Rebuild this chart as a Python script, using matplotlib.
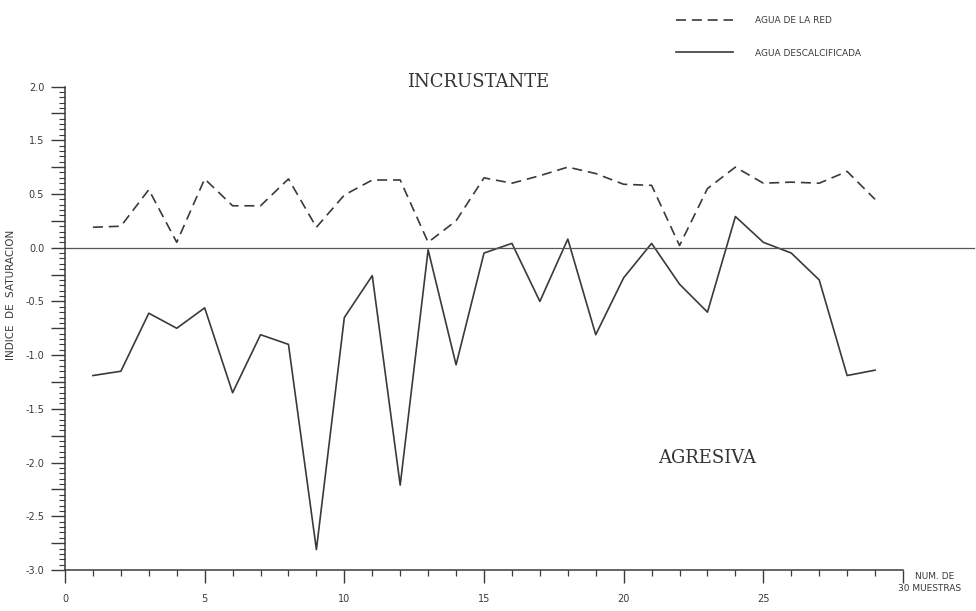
import numpy as np
import matplotlib
matplotlib.use("Agg")
import matplotlib.pyplot as plt
from matplotlib.ticker import MultipleLocator, FixedLocator, FuncFormatter

# muestras (numero de muestra)
muestras = list(range(1, 30))

# indice de saturacion, agua de la red (linea discontinua)
agua_red = [0.19, 0.20, 0.54, 0.05, 0.64, 0.39, 0.39, 0.64, 0.19, 0.49,
            0.63, 0.63, 0.05, 0.25, 0.65, 0.60, 0.67, 0.75, 0.69, 0.59,
            0.58, 0.02, 0.55, 0.75, 0.60, 0.61, 0.60, 0.71, 0.45]

# indice de saturacion, agua descalcificada (linea continua)
agua_descal = [-1.19, -1.15, -0.61, -0.75, -0.56, -1.35, -0.81, -0.90, -2.81, -0.65,
               -0.26, -2.21, -0.02, -1.09, -0.05, 0.04, -0.50, 0.08, -0.81, -0.28,
               0.04, -0.34, -0.60, 0.29, 0.05, -0.05, -0.30, -1.19, -1.14]

# etiquetas del eje y tal como aparecen en el original
y_labels = {1.5: "2.0", 1.0: "1.5", 0.5: "0.5", 0.0: "0.0", -0.5: "-0.5",
            -1.0: "-1.0", -1.5: "-1.5", -2.0: "-2.0", -2.5: "-2.5", -3.0: "-3.0"}
x_labels = {0: "0", 5: "5", 10: "10", 15: "15", 20: "20", 25: "25", 30: ""}

ink = "#3a3a3a"
small = ["DejaVu Sans"]

fig = plt.figure(figsize=(9.76, 6.11), dpi=100)
ax = fig.add_axes([0.0666, 0.0671, 0.8586, 0.7913])

ax.plot(muestras, agua_red, color=ink, lw=1.2, dashes=(6, 3.5), label="AGUA DE LA RED")
ax.plot(muestras, agua_descal, color=ink, lw=1.2, label="AGUA DESCALCIFICADA")
ax.axhline(0, xmin=0, xmax=1.085, color="#555555", lw=0.9, clip_on=False)

ax.set_xlim(0, 30)
ax.set_ylim(-3.0, 1.5)

for s in ["top", "right"]:
    ax.spines[s].set_visible(False)
for s in ["left", "bottom"]:
    ax.spines[s].set_color(ink)
    ax.spines[s].set_linewidth(1.1)

ax.yaxis.set_major_locator(MultipleLocator(0.25))
ax.yaxis.set_minor_locator(MultipleLocator(0.05))
ax.yaxis.set_major_formatter(FuncFormatter(lambda v, p: y_labels.get(round(v, 2), "")))
ax.xaxis.set_major_locator(FixedLocator(list(x_labels.keys())))
ax.xaxis.set_minor_locator(MultipleLocator(1))
ax.xaxis.set_major_formatter(FuncFormatter(lambda v, p: x_labels.get(int(round(v)), "")))

ax.tick_params(axis="y", which="major", direction="out", length=10, width=1.0,
               color=ink, labelsize=7, labelcolor=ink, pad=5)
ax.tick_params(axis="y", which="minor", direction="out", length=4.5, width=0.8, color=ink)
ax.tick_params(axis="x", which="major", direction="out", length=9, width=1.0,
               color=ink, labelsize=7, labelcolor=ink, pad=8)
ax.tick_params(axis="x", which="minor", direction="out", length=4, width=0.9, color=ink)

ax.set_ylabel("INDICE  DE  SATURACION", fontsize=7.5, color=ink, family=small)
ax.yaxis.set_label_coords(-0.058, 0.57)

fig.text(0.49, 0.866, "INCRUSTANTE", family="DejaVu Serif", fontsize=13,
         color="#333333", ha="center", va="center")
fig.text(0.724, 0.250, "AGRESIVA", family="DejaVu Serif", fontsize=13,
         color="#333333", ha="center", va="center")

fig.text(0.937, 0.057, "NUM. DE", fontsize=6.5, color=ink, ha="left", va="center", family=small)
fig.text(0.920, 0.037, "30 MUESTRAS", fontsize=6.5, color=ink, ha="left", va="center", family=small)

leg = ax.legend(loc="upper left", bbox_to_anchor=(0.688, 0.981), bbox_transform=fig.transFigure,
                frameon=False, fontsize=6.5, handlelength=6.3, handletextpad=2.5,
                labelspacing=2.6, borderpad=0)
for t in leg.get_texts():
    t.set_color(ink)

fig.savefig("out.png", dpi=100, facecolor="white")
